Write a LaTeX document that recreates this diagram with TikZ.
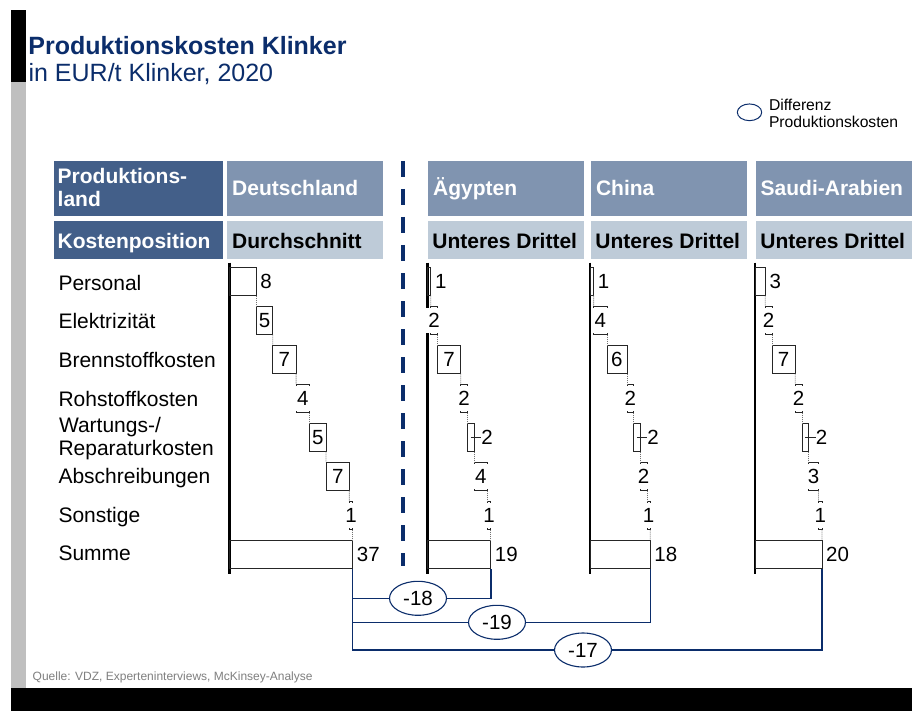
\documentclass[tikz,border=0pt]{standalone}
\usepackage{fontspec}
\setmainfont{Liberation Sans}
\usetikzlibrary{shapes.geometric}
\definecolor{navy}{HTML}{0B2D6B}
\definecolor{hdark}{HTML}{435F89}
\definecolor{hmid}{HTML}{8094B0}
\definecolor{hlight}{HTML}{BECBD8}
\definecolor{sidegray}{HTML}{BFBFBF}
\definecolor{srcgray}{HTML}{7F7F7F}
\newcommand{\myfs}[2]{\fontsize{#1}{#2}\selectfont}
\newcommand{\wfu}{3.33}
\tikzset{
  barbox/.style={draw=black!85, line width=0.8pt, minimum height=28.5pt, inner sep=0pt, outer sep=0pt},
  conn/.style={draw=black!55, line width=0.8pt, dash pattern=on 1pt off 1pt},
  leader/.style={draw=black!85, line width=0.8pt},
  numlbl/.style={font=\myfs{20.5}{24}, inner sep=0pt},
  axisline/.style={line width=2.2pt, black},
  hdrbox/.style={anchor=north west, inner sep=0pt, outer sep=0pt, minimum width=156pt},
  hdrtxt/.style={anchor=base west, inner sep=0pt, font=\myfs{21}{23}\bfseries},
  rowlbl/.style={anchor=base west, inner sep=0pt, font=\myfs{21}{24}},
  diffell/.style={ellipse, draw=navy, line width=1.1pt, fill=white, minimum width=57pt, minimum height=34pt, inner sep=0pt, font=\myfs{20.5}{24}},
  brk/.style={draw=navy, line width=1.5pt},
}
\newcommand{\wfcolumn}[4]{%
  \draw[axisline] (#2,262.5) -- (#2,574);
  \gdef\wfcum{0}%
  \foreach \val/\md [count=\i from 0] in {#3}{%
    \pgfmathsetmacro{\xa}{#2+\wfcum*\wfu}%
    \pgfmathsetmacro{\wdt}{\val*\wfu}%
    \pgfmathsetmacro{\yt}{267+39*\i}%
    \node[barbox, minimum width=\wdt pt, anchor=north west] (#1-\i) at (\xa,\yt) {};
    \ifnum\i>0
      \pgfmathtruncatemacro{\ip}{\i-1}%
      \draw[conn] (#1-\ip.south east) -- (#1-\i.north west);
    \fi
    \ifcase\md
      \node[numlbl, anchor=west] (#1-l\i) at ([xshift=4pt]#1-\i.east) {\val};
    \or
      \node[numlbl] (#1-l\i) at (#1-\i.center) {\val};
    \or
      \node[numlbl, fill=white, inner xsep=2.5pt, minimum height=25pt] (#1-l\i) at (#1-\i.center) {\val};
    \or
      \node[numlbl, anchor=west] (#1-l\i) at ([xshift=7pt]#1-\i.east) {\val};
      \draw[leader] (#1-\i.center) -- (#1-l\i.west);
    \fi
    \pgfmathsetmacro{\newcum}{\wfcum+\val}%
    \xdef\wfcum{\newcum}%
  }
  \pgfmathsetmacro{\wdt}{#4*\wfu}%
  \node[barbox, minimum width=\wdt pt, anchor=north west] (#1-sum) at (#2,540) {};
  \draw[conn] (#1-6.south east) -- (#1-sum.north east);
  \node[numlbl, anchor=west] (#1-lsum) at ([xshift=4pt]#1-sum.east) {#4};
}
\begin{document}
\begin{tikzpicture}[x=1pt, y=-1pt]
\useasboundingbox (0,0) rectangle (912,711);
\fill[white] (0,0) rectangle (912,711);
% side bars and bottom band
\fill[black] (11,10) rectangle (25.5,82);
\fill[sidegray] (11,82) rectangle (25.5,688);
\fill[black] (11,688) rectangle (912,711);
% title
\node[anchor=base west, inner sep=0pt, font=\myfs{25}{30}\bfseries, text=navy] (title) at (28.2,55) {Produktionskosten Klinker};
\node[anchor=base west, inner sep=0pt, font=\myfs{25}{30}, text=navy] (subtitle) at (28.4,82) {in EUR/t Klinker, 2020};
% legend
\node[ellipse, draw=navy, line width=1pt, minimum width=24.4pt, minimum height=16.7pt, inner sep=0pt] (legell) at (749.5,112.3) {};
\node[anchor=base west, inner sep=0pt, font=\myfs{15.7}{17}] (leg1) at (768.8,110.5) {Differenz};
\node[anchor=base west, inner sep=0pt, font=\myfs{15.7}{17}] (leg2) at (768.8,127.7) {Produktionskosten};
% header row 1
\node[hdrbox, fill=hdark, minimum width=169pt, minimum height=55pt] (hP) at (54,161) {};
\node[hdrbox, fill=hmid, minimum height=55pt] (hD) at (227,161) {};
\node[hdrbox, fill=hmid, minimum height=55pt] (hA) at (428,161) {};
\node[hdrbox, fill=hmid, minimum height=55pt] (hC) at (591,161) {};
\node[hdrbox, fill=hmid, minimum height=55pt] (hS) at (756,161) {};
\node[hdrtxt, text=white] (tP1) at (57.5,184) {Produktions-};
\node[hdrtxt, text=white] (tP2) at (57.5,207) {land};
\node[hdrtxt, text=white] (tD) at (232,195.5) {Deutschland};
\node[hdrtxt, text=white] (tA) at (433,195.5) {Ägypten};
\node[hdrtxt, text=white] (tC) at (595.8,195.5) {China};
\node[hdrtxt, text=white] (tS) at (760.5,195.5) {Saudi-Arabien};
% header row 2
\node[hdrbox, fill=hdark, minimum width=169pt, minimum height=38pt] (kP) at (54,221) {};
\node[hdrbox, fill=hlight, minimum height=38pt] (kD) at (227,221) {};
\node[hdrbox, fill=hlight, minimum height=38pt] (kA) at (428,221) {};
\node[hdrbox, fill=hlight, minimum height=38pt] (kC) at (591,221) {};
\node[hdrbox, fill=hlight, minimum height=38pt] (kS) at (756,221) {};
\node[hdrtxt, text=white] (uP) at (57.5,248) {Kostenposition};
\node[hdrtxt, text=black] (uD) at (232,248) {Durchschnitt};
\node[hdrtxt, text=black] (uA) at (432.2,248) {Unteres Drittel};
\node[hdrtxt, text=black] (uC) at (595.2,248) {Unteres Drittel};
\node[hdrtxt, text=black] (uS) at (760.2,248) {Unteres Drittel};
% row labels
\node[rowlbl] (r0) at (58.3,290) {Personal};
\node[rowlbl] (r1) at (58.3,328.5) {Elektrizität};
\node[rowlbl] (r2) at (58.3,367) {Brennstoffkosten};
\node[rowlbl] (r3) at (58.3,406.5) {Rohstoffkosten};
\node[rowlbl] (r4a) at (58.8,432.5) {Wartungs-/};
\node[rowlbl] (r4b) at (58.3,455.5) {Reparaturkosten};
\node[rowlbl] (r5) at (58.3,483.5) {Abschreibungen};
\node[rowlbl] (r6) at (58.3,522) {Sonstige};
\node[rowlbl] (r7) at (58.3,560.5) {Summe};
% divider
\draw[navy, line width=3.5pt, dash pattern=on 16pt off 12pt] (403,161) -- (403,566);
% waterfall columns: mode 0 right, 1 inside, 2 centred on white, 3 right with leader
\wfcolumn{D}{229.5}{8/0,5/1,7/1,4/2,5/1,7/1,1/2}{37}
\wfcolumn{A}{427.5}{1/0,2/2,7/1,2/2,2/3,4/2,1/2}{19}
\wfcolumn{C}{590.3}{1/0,4/2,6/1,2/2,2/3,2/2,1/2}{18}
\wfcolumn{S}{755.3}{3/0,2/2,7/1,2/2,2/3,3/2,1/2}{20}
% differences
\node[diffell] (e18) at (418,598.3) {-18};
\node[diffell] (e19) at (497,622.3) {-19};
\node[diffell] (e17) at (583,650) {-17};
\draw[brk] (D-sum.south east) |- (e18.west);
\draw[brk] (e18.east) -| (A-sum.south east);
\draw[brk] (D-sum.south east) |- (e19.west);
\draw[brk] (e19.east) -| (C-sum.south east);
\draw[brk] (D-sum.south east) |- (e17.west);
\draw[brk] (e17.east) -| (S-sum.south east);
% source
\node[anchor=base west, inner sep=0pt, font=\myfs{12}{14}, text=srcgray] (src) at (32.5,680.7) {Quelle: VDZ, Experteninterviews, McKinsey-Analyse};
\end{tikzpicture}
\end{document}
